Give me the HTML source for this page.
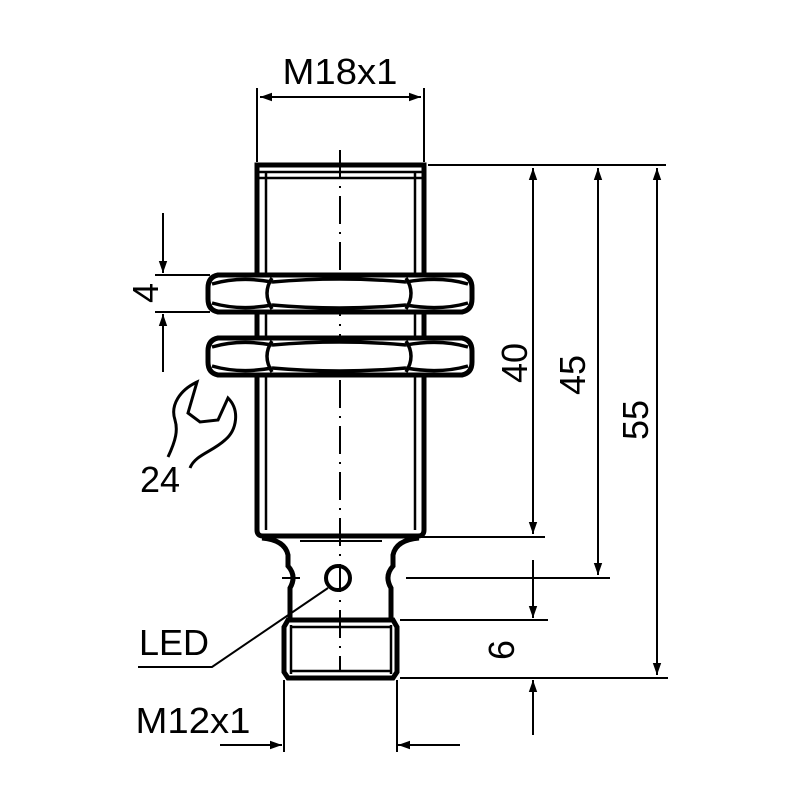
<!DOCTYPE html>
<html><head><style>body{margin:0;background:#fff}svg{display:block}text{font-family:"Liberation Sans",sans-serif;fill:#000}</style></head>
<body>
<svg width="800" height="800" viewBox="0 0 800 800" xmlns="http://www.w3.org/2000/svg">
<defs>
<marker id="a" viewBox="0 0 10 10" refX="10" refY="5" markerWidth="12" markerHeight="12" markerUnits="userSpaceOnUse" orient="auto-start-reverse"><path d="M0,1.5 L10,5 L0,8.5Z" fill="#000"/></marker>
</defs>
<g fill="none" stroke="#000">
<path d="M340,150V670" stroke-width="2" stroke-dasharray="28,8,2,8"/>
<g stroke-width="5">
<path d="M257,165V530Q257,536 263,536H418Q424,536 424,530V165Z"/>
</g>
<path d="M257,172H424M266,172V530M415,172V530M257,178H424" stroke-width="2.5"/>
<g stroke-width="5" fill="#fff">
<path d="M218,275H462Q472,277 472,288V299Q472,310 462,312H218Q208,310 208,299V288Q208,277 218,275Z"/>
<path d="M218,338H462Q472,340 472,351V362Q472,373 462,375H218Q208,373 208,362V351Q208,340 218,338Z"/>
</g>
<g stroke-width="3.5">
<path d="M272,278Q262,293 272,309"/>
<path d="M272,282Q240,276 212,284M272,305Q240,311 212,303"/>
<path d="M272,282Q340,276 406,282M272,305Q340,311 406,305"/>
<path d="M406,282Q440,276 468,284M406,305Q440,311 468,303"/>
<path d="M406,278Q416,293 406,309"/>
<path d="M272,341Q262,356 272,372"/>
<path d="M272,345Q240,339 212,347M272,368Q240,374 212,366"/>
<path d="M272,345Q340,339 406,345M272,368Q340,374 406,368"/>
<path d="M406,345Q440,339 468,347M406,368Q440,374 468,366"/>
<path d="M406,341Q416,356 406,372"/>
</g>
<path d="M262,538Q285,540 288,555V566Q297,576 290,588V620M419,538Q396,540 393,555V566Q384,576 391,588V620" stroke-width="5"/>
<path d="M300,541H382" stroke-width="2"/>
<circle cx="338" cy="578" r="12" stroke-width="4"/>
<path d="M282,578H300" stroke-width="2"/>
<path d="M288,620H393L397,627V672L393,678H288L284,672V627Z" stroke-width="5"/>
<path d="M290,627H392M290,671H392M291,625V674M391,625V674" stroke-width="2.5"/>
<g stroke-width="2">
<path d="M257,88V162M424,88V162"/>
<path d="M260,97H421" marker-start="url(#a)" marker-end="url(#a)"/>
<path d="M428,165H666M400,537H545M406,578H610M400,620H548M400,678H668"/>
<path d="M533,168V534" marker-start="url(#a)" marker-end="url(#a)"/>
<path d="M598,168V575" marker-start="url(#a)" marker-end="url(#a)"/>
<path d="M657,168V675" marker-start="url(#a)" marker-end="url(#a)"/>
<path d="M533,560V618" marker-end="url(#a)"/>
<path d="M533,735V680" marker-end="url(#a)"/>
<path d="M155,275H210M155,312H210"/>
<path d="M163,213V273" marker-end="url(#a)"/>
<path d="M163,372V314" marker-end="url(#a)"/>
<path d="M284,680V752M397,680V752"/>
<path d="M220,745H282" marker-end="url(#a)"/>
<path d="M460,745H398" marker-end="url(#a)"/>
<path d="M138,667H212L328,588"/>
</g>
<path d="M168,457C176,440 178,430 175,420C170,405 180,390 197,382L188,413L200,422L218,420L228,398C240,410 237,430 225,440C212,452 195,455 190,468" stroke-width="3"/>
</g>
<text x="340" y="84" font-size="36" text-anchor="middle" textLength="115" lengthAdjust="spacingAndGlyphs">M18x1</text>
<text x="160" y="492" font-size="36" text-anchor="middle">24</text>
<text x="174" y="655" font-size="36" text-anchor="middle">LED</text>
<text x="193" y="733" font-size="36" text-anchor="middle" textLength="115" lengthAdjust="spacingAndGlyphs">M12x1</text>
<text transform="translate(158,293) rotate(-90)" font-size="36" text-anchor="middle">4</text>
<text transform="translate(527,363) rotate(-90)" font-size="36" text-anchor="middle">40</text>
<text transform="translate(585,375) rotate(-90)" font-size="36" text-anchor="middle">45</text>
<text transform="translate(648,420) rotate(-90)" font-size="36" text-anchor="middle">55</text>
<text transform="translate(514,650) rotate(-90)" font-size="36" text-anchor="middle">6</text>
</svg>
</body></html>
